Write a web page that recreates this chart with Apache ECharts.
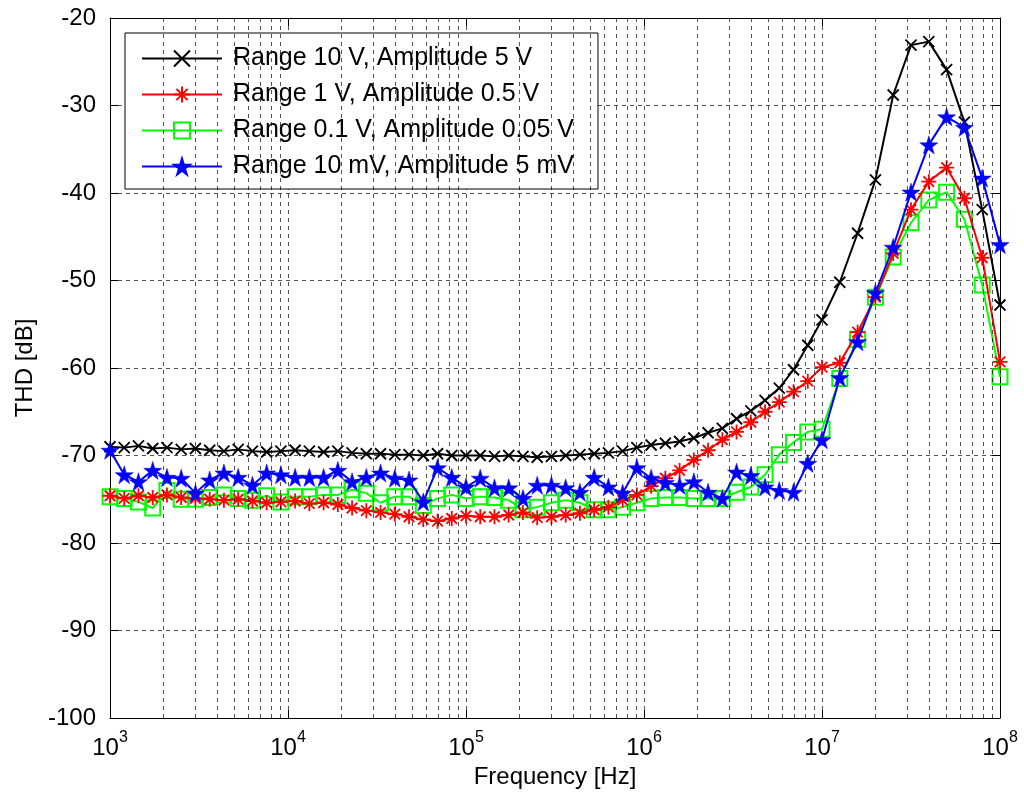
<!DOCTYPE html>
<html>
<head>
<meta charset="utf-8">
<script src="https://cdn.jsdelivr.net/npm/echarts@6/dist/echarts.min.js"></script>
<style>
  html, body { margin: 0; padding: 0; background: #fff; }
  #chart { width: 1024px; height: 803px; }
</style>
</head>
<body>
<div id="chart"></div>
<script>
// frequency points [Hz]
const freqs = [
  1000, 1202, 1445, 1738, 2089, 2512, 3020, 3631, 4365, 5248, 6310, 7586, 9120,
  10965, 13183, 15849, 19055, 22909, 27542, 33113, 39811, 47863, 57544, 69183, 83176, 100000,
  120226, 144544, 173780, 208930, 251189, 301995, 363078, 436516, 524807, 630957, 758578, 912011,
  1096478, 1318257, 1584893, 1905461, 2290868, 2754229, 3311311, 3981072, 4786301, 5754399, 6918310, 8317638, 10000000,
  12589254, 15848932, 19952623, 25118864, 31622777, 39810717, 50118723, 63095734, 79432823, 100000000
];

// THD [dB]
const thd10V = [
  -69.0, -69.1, -68.9, -69.2, -69.1, -69.3, -69.2, -69.4, -69.5, -69.3, -69.5, -69.6, -69.5,
  -69.4, -69.5, -69.6, -69.5, -69.7, -69.8, -69.8, -69.9, -69.9, -70.0, -69.8, -70.0, -70.0,
  -70.0, -70.1, -70.0, -70.1, -70.2, -70.1, -70.0, -69.9, -69.8, -69.7, -69.5, -69.1,
  -68.8, -68.6, -68.4, -68.0, -67.4, -66.9, -65.8, -64.9, -63.7, -62.3, -60.2, -57.4, -54.5,
  -50.2, -44.6, -38.5, -28.8, -23.1, -22.7, -25.9, -31.9, -41.9, -52.8
];
const thd1V = [
  -74.6, -74.9, -74.6, -74.8, -74.5, -74.8, -74.9, -75.0, -75.1, -75.0, -75.2, -75.4, -75.3,
  -75.2, -75.5, -75.4, -75.6, -76.0, -76.3, -76.5, -76.7, -77.0, -77.3, -77.5, -77.2, -76.9,
  -77.0, -77.0, -76.8, -76.5, -77.1, -77.0, -76.8, -76.6, -76.2, -75.9, -75.1, -74.5,
  -73.5, -72.6, -71.7, -70.5, -69.4, -68.2, -67.3, -66.2, -65.0, -63.9, -62.7, -61.5, -59.9,
  -59.4, -55.9, -51.9, -46.9, -41.9, -38.7, -37.1, -40.6, -47.4, -59.3
];
const thd01V = [
  -74.7, -74.9, -75.3, -76.0, -74.0, -75.0, -75.0, -74.8, -74.5, -74.9, -75.1, -74.6, -75.3,
  -74.7, -74.7, -74.5, -74.5, -73.9, -74.3, -75.4, -74.7, -74.7, -75.7, -74.9, -74.5, -74.9,
  -74.7, -74.8, -75.1, -76.2, -75.9, -75.4, -75.1, -75.4, -76.2, -76.2, -75.9, -75.4,
  -74.9, -74.8, -74.8, -74.9, -74.9, -74.9, -74.2, -73.6, -72.2, -69.9, -68.5, -67.3, -67.0,
  -61.2, -56.7, -51.9, -47.3, -43.4, -40.8, -39.9, -43.0, -50.5, -61.0
];
const thd10mV = [
  -69.4, -72.2, -73.0, -71.7, -72.5, -72.6, -74.3, -72.8, -72.0, -72.5, -73.4, -72.0, -72.2,
  -72.5, -72.5, -72.5, -71.7, -73.0, -72.5, -72.0, -72.6, -72.8, -75.3, -71.4, -72.5, -73.6,
  -72.6, -73.7, -73.7, -74.9, -73.4, -73.4, -73.7, -74.2, -72.5, -73.6, -74.3, -71.4,
  -72.6, -73.1, -73.4, -73.0, -74.2, -74.9, -71.9, -72.3, -73.6, -74.0, -74.2, -70.9, -68.2,
  -61.1, -57.0, -51.4, -46.2, -39.9, -34.5, -31.3, -32.5, -38.3, -45.9
];

const seriesNames = [
  'Range 10 V, Amplitude 5 V',
  'Range 1 V, Amplitude 0.5 V',
  'Range 0.1 V, Amplitude 0.05 V',
  'Range 10 mV, Amplitude 5 mV'
];

// minor gridlines at 2..9 x each decade
const decades = [1e3, 1e4, 1e5, 1e6, 1e7];
const minorMult = [2, 3, 4, 5, 6, 7, 8, 9];
const minorFreqs = [];
decades.forEach(d => minorMult.forEach(m => minorFreqs.push(d * m)));

const FONT = '"Liberation Sans", Arial, sans-serif';
const gridDash = { color: '#000', width: 0.8, type: [4, 4], opacity: 0.85 };

const crossPath = 'path://M0,0L10,10M10,0L0,10';
const asteriskPath = 'path://M5,0L5,10M0,5L10,5M1.5,1.5L8.5,8.5M8.5,1.5L1.5,8.5';
const starPath = 'path://M50,0L61,35L98,35L68,57L79,91L50,70L21,91L32,57L2,35L39,35Z';

const pairs = arr => freqs.map((f, i) => [f, arr[i]]);

const chart = echarts.init(document.getElementById('chart'));

const option = {
  animation: false,
  backgroundColor: '#fff',
  textStyle: { fontFamily: FONT },
  grid: { left: 110, right: 24, top: 18, bottom: 85 },
  legend: {
    data: seriesNames,
    orient: 'vertical',
    left: 125,
    top: 33,
    itemWidth: 80,
    itemHeight: 20,
    itemGap: 11,
    padding: [13, 24, 10, 16],
    backgroundColor: '#fff',
    borderColor: '#000',
    borderWidth: 1,
    borderRadius: 0,
    textStyle: { fontSize: 25, color: '#000', fontFamily: FONT, padding: [0, 0, 0, 6] }
  },
  xAxis: [
    {
      type: 'log',
      logBase: 10,
      min: 1e3,
      max: 1e8,
      name: 'Frequency [Hz]',
      nameLocation: 'middle',
      nameGap: 47,
      nameTextStyle: { fontSize: 24, color: '#000', fontFamily: FONT },
      axisLine: { show: true, lineStyle: { color: '#000', width: 1 } },
      axisTick: { show: true, inside: true, length: 8, lineStyle: { color: '#000' } },
      axisLabel: {
        color: '#000',
        margin: 12,
        formatter: v => '{b|10}{s|' + Math.round(Math.log10(v)) + '}',
        rich: {
          b: { fontSize: 24, fontFamily: FONT, color: '#000', verticalAlign: 'bottom', lineHeight: 30 },
          s: { fontSize: 16, fontFamily: FONT, color: '#000', verticalAlign: 'top', lineHeight: 16 }
        }
      },
      splitLine: { show: true, lineStyle: gridDash }
    },
    {
      type: 'log',
      logBase: 10,
      min: 1e3,
      max: 1e8,
      position: 'top',
      axisLine: { show: true, lineStyle: { color: '#000', width: 1 } },
      axisTick: { show: true, inside: true, length: 8, lineStyle: { color: '#000' } },
      axisLabel: { show: false },
      splitLine: { show: false }
    }
  ],
  yAxis: [
    {
      type: 'value',
      min: -100,
      max: -20,
      interval: 10,
      name: 'THD [dB]',
      nameLocation: 'middle',
      nameGap: 72,
      nameTextStyle: { fontSize: 24, color: '#000', fontFamily: FONT },
      axisLine: { show: true, lineStyle: { color: '#000', width: 1 } },
      axisTick: { show: true, inside: true, length: 8, lineStyle: { color: '#000' } },
      axisLabel: { fontSize: 24, color: '#000', margin: 14, fontFamily: FONT },
      splitLine: { show: true, lineStyle: gridDash }
    },
    {
      type: 'value',
      min: -100,
      max: -20,
      interval: 10,
      position: 'right',
      axisLine: { show: true, lineStyle: { color: '#000', width: 1 } },
      axisTick: { show: true, inside: true, length: 8, lineStyle: { color: '#000' } },
      axisLabel: { show: false },
      splitLine: { show: false }
    }
  ],
  series: [
    {
      name: 'minor grid',
      type: 'line',
      data: [],
      silent: true,
      z: 1,
      markLine: {
        silent: true,
        symbol: ['none', 'none'],
        label: { show: false },
        lineStyle: gridDash,
        data: minorFreqs.map(f => ({ xAxis: f }))
      }
    },
    {
      name: seriesNames[0],
      type: 'line',
      data: pairs(thd10V),
      symbol: crossPath,
      symbolSize: 11,
      lineStyle: { color: '#000', width: 2 },
      itemStyle: { color: '#000', borderColor: '#000', borderWidth: 1.8 },
      z: 5
    },
    {
      name: seriesNames[1],
      type: 'line',
      data: pairs(thd1V),
      symbol: asteriskPath,
      symbolSize: 15,
      lineStyle: { color: '#ff0000', width: 2 },
      itemStyle: { color: '#ff0000', borderColor: '#ff0000', borderWidth: 1.8 },
      z: 4
    },
    {
      name: seriesNames[2],
      type: 'line',
      data: pairs(thd01V),
      symbol: 'rect',
      symbolSize: 15,
      lineStyle: { color: '#00ff00', width: 2 },
      itemStyle: { color: 'rgba(0,0,0,0)', borderColor: '#00ff00', borderWidth: 2 },
      z: 3
    },
    {
      name: seriesNames[3],
      type: 'line',
      data: pairs(thd10mV),
      symbol: starPath,
      symbolSize: 18,
      lineStyle: { color: '#0000ff', width: 2 },
      itemStyle: { color: '#0000ff', borderColor: '#0000ff', borderWidth: 0.5 },
      z: 6
    }
  ]
};

chart.setOption(option);
</script>
</body>
</html>
